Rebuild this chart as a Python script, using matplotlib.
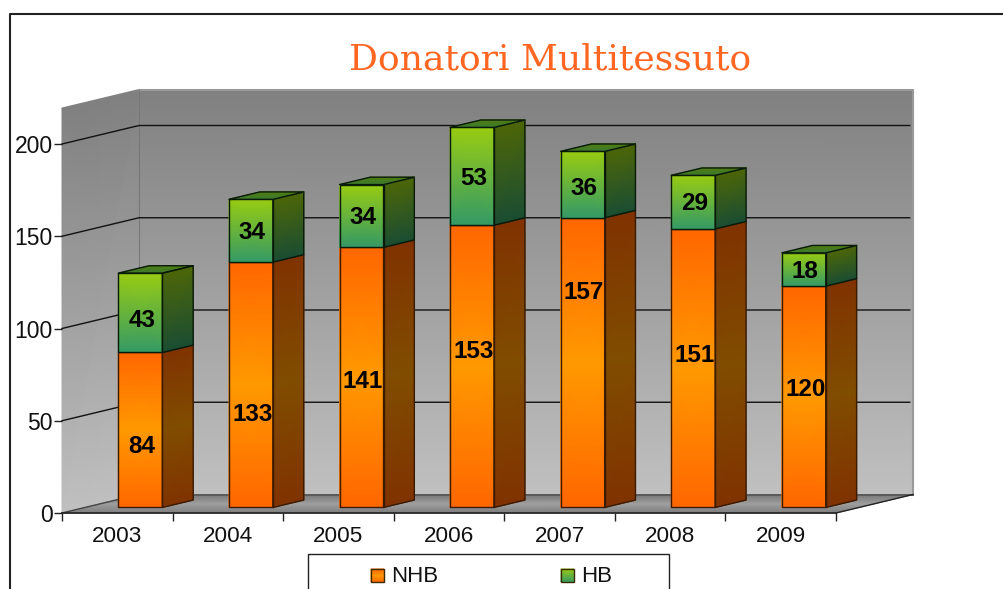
#!/usr/bin/env python3
"""Stacked pseudo-3D bars: Donatori Multitessuto, 2003-2009."""
import matplotlib
matplotlib.use("Agg")
import matplotlib.pyplot as plt
import numpy as np
from matplotlib.colors import to_rgb
from matplotlib.patches import Polygon, Rectangle

plt.rcParams["font.family"] = "Liberation Sans"

years = ["2003", "2004", "2005", "2006", "2007", "2008", "2009"]
nhb = [84, 133, 141, 153, 157, 151, 120]
hb = [43, 34, 34, 53, 36, 29, 18]
y_ticks = [0, 50, 100, 150, 200]

# hand placed data labels in the original, offset from segment centre (value units)
nhb_label_shift = [-9, -16, -2, 8, 38, 7, 4]
hb_label_shift = [-4, -1, -1, -1, -2, -1, -1]

W, H = 1004, 589
# front plane of the box in pixels
LEFT, RIGHT, BASE, TOP = 62, 836, 513, 108
PX_X = 7 / (RIGHT - LEFT)
PX_Y = 200 / 369
DX = 77 * PX_X
DY = 18.5 * PX_Y
YMAX = (BASE - TOP) * PX_Y
BAR_W = 44 * PX_X
D_FRONT, D_BACK = 0.30, 0.70

ORANGE = [(0, "#ff6600"), (0.5, "#ff9900"), (1, "#ff6600")]
ORANGE_SIDE = [(0, "#803300"), (0.5, "#804d00"), (1, "#803300")]
GREEN = [(0, "#339966"), (1, "#99cc11")]
GREEN_SIDE = [(0, "#1a4d33"), (1, "#4d6608")]
GREEN_TOP = [(0, "#3a7a30"), (1, "#4f7c10")]
WALL = [(0, "#c0c0c0"), (1, "#808080")]
FLOOR = [(0, "#7c7c7c"), (0.5, "#a0a0a0"), (1, "#767676")]


def grad_quad(ax, bl, br, tr, tl, stops, zorder=2):
    """Fill a quad with a gradient running from its bottom edge to its top edge."""
    fr = np.array([s[0] for s in stops])
    cols = np.array([to_rgb(s[1]) for s in stops])
    left = np.outer(1 - fr, bl) + np.outer(fr, tl)
    right = np.outer(1 - fr, br) + np.outer(fr, tr)
    X = np.column_stack([left[:, 0], right[:, 0]])
    Y = np.column_stack([left[:, 1], right[:, 1]])
    C = np.stack([cols, cols], axis=1)
    ax.pcolormesh(X, Y, C, shading="gouraud", clip_on=False, zorder=zorder,
                  rasterized=False)


def outline(ax, pts, color="black", lw=1.0, zorder=2):
    ax.add_patch(Polygon(pts, closed=True, fill=False, edgecolor=color, lw=lw,
                         clip_on=False, zorder=zorder, joinstyle="round"))


def draw_box(ax, x0, x1, v0, v1, face, side, edge, zorder):
    w = x1 - x0
    fdx, fdy = D_FRONT * DX, D_FRONT * DY
    bdx, bdy = D_BACK * DX, D_BACK * DY
    x0f, x1f = x0 + fdx, x1 + fdx
    x1b = x1 + bdx
    y0f, y1f = v0 + fdy, v1 + fdy
    y0b, y1b = v0 + bdy, v1 + bdy
    grad_quad(ax, (x0f, y0f), (x1f, y0f), (x1f, y1f), (x0f, y1f), face, zorder)
    grad_quad(ax, (x1f, y0f), (x1b, y0b), (x1b, y1b), (x1f, y1f), side, zorder)
    outline(ax, [(x0f, y0f), (x1f, y0f), (x1f, y1f), (x0f, y1f)], edge, 1.0, zorder + 0.1)
    outline(ax, [(x1f, y0f), (x1b, y0b), (x1b, y1b), (x1f, y1f)], edge, 1.0, zorder + 0.1)
    return x0f, w, y1f, y1b, bdx


fig = plt.figure(figsize=(W / 100, H / 100), dpi=100)
ax = fig.add_axes([LEFT / W, (H - BASE) / H, (RIGHT - LEFT) / W, (BASE - TOP) / H])
ax.patch.set_visible(False)
ax.set_xlim(0, 7)
ax.set_ylim(0, YMAX)

# walls and floor
grad_quad(ax, (DX, DY), (7 + DX, DY), (7 + DX, YMAX + DY), (DX, YMAX + DY), WALL, 1)
grad_quad(ax, (0, 0), (DX, DY), (DX, YMAX + DY), (0, YMAX), WALL, 1)
grad_quad(ax, (0, 0), (7, 0), (7 + DX, DY), (DX, DY), FLOOR, 1)
ax.plot([DX, 7 + DX, 7 + DX], [YMAX + DY, YMAX + DY, DY], color="#999999", lw=1.5,
        clip_on=False, zorder=1.1)
ax.plot([DX, DX], [DY, YMAX + DY], color="#777777", lw=0.8, clip_on=False, zorder=1.1)
ax.plot([DX, 7 + DX], [DY, DY], color="#555555", lw=1.2, clip_on=False, zorder=1.1)
ax.plot([7, 7 + DX], [0, DY], color="#222222", lw=1.0, clip_on=False, zorder=1.2)
ax.plot([0, DX], [0, DY], color="#444444", lw=1.0, clip_on=False, zorder=1.2)

# gridlines run up the side wall and along the back wall
for v in y_ticks[1:]:
    ax.plot([0, DX, 7 + DX - 0.03], [v, v + DY, v + DY], color="#111111", lw=1.0,
            clip_on=False, zorder=1.5)

# bars, left to right so later ones sit over earlier ones
for i, (a, b) in enumerate(zip(nhb, hb)):
    x0 = i + 0.5 - BAR_W / 2
    x1 = x0 + BAR_W
    draw_box(ax, x0, x1, 0, a, ORANGE, ORANGE_SIDE, "#3a1a00", 3 + i)
    x0f, w, y1f, y1b, bdx = draw_box(ax, x0, x1, a, a + b, GREEN, GREEN_SIDE, "#0a1a0a", 3.2 + i)
    x1f = x0f + w
    back = (D_BACK - D_FRONT)
    top_pts = [(x0f, y1f), (x1f, y1f), (x1f + back * DX, y1b), (x0f + back * DX, y1b)]
    grad_quad(ax, top_pts[0], top_pts[1], top_pts[2], top_pts[3], GREEN_TOP, 3.3 + i)
    outline(ax, top_pts, "#0a1a0a", 1.0, 3.4 + i)
    cx = x0f + w / 2 + 1.5 * PX_X
    ax.text(cx, a / 2 + D_FRONT * DY + nhb_label_shift[i], str(a), ha="center", va="center",
            fontsize=17.5, fontweight="bold", color="black", zorder=20, clip_on=False)
    ax.text(cx, a + b / 2 + D_FRONT * DY + hb_label_shift[i], str(b), ha="center", va="center",
            fontsize=17.5, fontweight="bold", color="black", zorder=20, clip_on=False)

# axes
for s in ["top", "right", "left"]:
    ax.spines[s].set_visible(False)
ax.spines["bottom"].set_color("#222222")
ax.spines["bottom"].set_linewidth(1.2)
ax.spines["bottom"].set_zorder(15)
ax.set_yticks(y_ticks)
ax.set_yticklabels([str(v) for v in y_ticks], fontsize=16.5, color="#111111")
ax.set_xticks(np.arange(8))
ax.set_xticklabels([])
ax.set_xticks(np.arange(7) + 0.5, labels=years, minor=True, fontsize=16.2, color="#111111")
ax.tick_params(axis="x", which="major", length=5.5, width=1, color="#222222")
ax.tick_params(axis="x", which="minor", length=0, pad=9.5)
ax.tick_params(axis="y", length=5.5, width=1, color="#222222", pad=1)

# page furniture in pixel coordinates
chrome = fig.add_axes([0, 0, 1, 1], zorder=5)
chrome.set_xlim(0, W)
chrome.set_ylim(H, 0)
chrome.axis("off")
chrome.plot([10.5, 10.5, W], [H, 14, 14], color="#222222", lw=1.5)
chrome.text(550.5, 60, "Donatori Multitessuto", ha="center", va="center",
            fontsize=26, family="DejaVu Serif", color="#ff6622")
chrome.add_patch(Rectangle((308, 553.5), 361, 40, fill=False, edgecolor="#222222", lw=1.0))

for x, name, stops, text_x in [(371, "NHB", ORANGE, 391), (561, "HB", GREEN, 581)]:
    s = 13
    grad_quad(chrome, (x, 582), (x + s, 582), (x + s, 569), (x, 569), stops, 3)
    chrome.add_patch(Rectangle((x, 569), s, s, fill=False, edgecolor="#3a2a00", lw=1.0, zorder=4))
    chrome.text(text_x, 576, name, ha="left", va="center", fontsize=16, color="#111111")

fig.savefig("out.png", dpi=100)
